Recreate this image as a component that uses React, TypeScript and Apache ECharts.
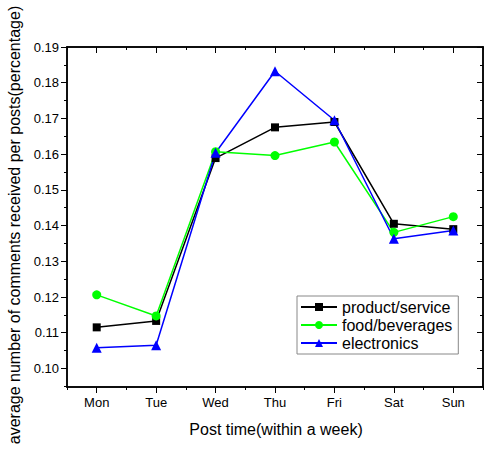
import React, { useEffect, useRef } from "react";
import * as echarts from "echarts";

const days = ["Mon", "Tue", "Wed", "Thu", "Fri", "Sat", "Sun"];
const productService = [0.1115, 0.1133, 0.1589, 0.1675, 0.169, 0.1405, 0.139];
const foodBeverages = [0.1206, 0.1147, 0.1607, 0.1596, 0.1634, 0.1381, 0.1425];
const electronics = [0.1058, 0.1065, 0.1604, 0.1832, 0.1695, 0.1363, 0.1386];
const yMajorTicks = [0.1, 0.11, 0.12, 0.13, 0.14, 0.15, 0.16, 0.17, 0.18, 0.19];
const yMinorTicks = [0.095, 0.105, 0.115, 0.125, 0.135, 0.145, 0.155, 0.165, 0.175, 0.185];
const yMin = 0.0948;
const yMax = 0.19;

const FONT = "Liberation Sans, Arial, sans-serif";

export default function App() {
  const ref = useRef<HTMLDivElement>(null);
  useEffect(() => {
    if (!ref.current) return;
    const chart = echarts.init(ref.current, undefined, { renderer: "svg" });
    const axisLine = { show: true, lineStyle: { color: "#000", width: 1.5 } };
    const xBase = {
      type: "category" as const,
      data: days,
      boundaryGap: true,
      axisLine,
      splitLine: { show: false },
    };
    const yBase = {
      type: "value" as const,
      min: yMin,
      max: yMax,
      axisLine,
      splitLine: { show: false },
    };
    chart.setOption({
      animation: false,
      backgroundColor: "#fff",
      textStyle: { fontFamily: FONT },
      grid: { left: 67, top: 47, width: 416, height: 340 },
      xAxis: [
        {
          ...xBase,
          position: "bottom",
          axisTick: { show: true, alignWithLabel: true, length: 6, inside: false, lineStyle: { color: "#000" } },
          axisLabel: { show: true, color: "#000", fontSize: 13, fontFamily: FONT, margin: 9 },
        },
        {
          ...xBase,
          position: "bottom",
          axisTick: { show: true, alignWithLabel: false, length: 3, inside: false, lineStyle: { color: "#000" } },
          axisLabel: { show: false },
        },
        {
          ...xBase,
          position: "top",
          axisTick: { show: true, alignWithLabel: true, length: 6, inside: true, lineStyle: { color: "#000" } },
          axisLabel: { show: false },
        },
        {
          ...xBase,
          position: "top",
          axisTick: { show: true, alignWithLabel: false, length: 3, inside: true, lineStyle: { color: "#000" } },
          axisLabel: { show: false },
        },
      ],
      yAxis: [
        {
          ...yBase,
          position: "left",
          axisTick: { show: true, length: 6, inside: false, customValues: yMajorTicks, lineStyle: { color: "#000" } },
          axisLabel: {
            show: true,
            customValues: yMajorTicks,
            color: "#000",
            fontSize: 13,
            fontFamily: FONT,
            margin: 8,
            formatter: (v: number) => v.toFixed(2),
          },
        },
        {
          ...yBase,
          position: "left",
          axisTick: { show: true, length: 3, inside: false, customValues: yMinorTicks, lineStyle: { color: "#000" } },
          axisLabel: { show: false },
        },
        {
          ...yBase,
          position: "right",
          axisTick: { show: true, length: 6, inside: true, customValues: yMajorTicks, lineStyle: { color: "#000" } },
          axisLabel: { show: false },
        },
        {
          ...yBase,
          position: "right",
          axisTick: { show: true, length: 3, inside: true, customValues: yMinorTicks, lineStyle: { color: "#000" } },
          axisLabel: { show: false },
        },
      ],
      legend: {
        orient: "vertical",
        left: 297,
        top: 296,
        padding: [3, 6, 3, 3],
        itemWidth: 36,
        itemHeight: 10,
        itemGap: 2,
        borderColor: "#888",
        borderWidth: 1,
        backgroundColor: "#fff",
        textStyle: { fontSize: 16, color: "#000", fontFamily: FONT },
        data: ["product/service", "food/beverages", "electronics"],
      },
      graphic: [
        {
          type: "text",
          x: 14,
          y: 225,
          rotation: Math.PI / 2,
          style: {
            text: "average number of comments received per posts(percentage)",
            font: `16px ${FONT}`,
            fill: "#000",
            align: "center",
            verticalAlign: "middle",
          },
        },
        {
          type: "text",
          x: 276,
          y: 429,
          style: {
            text: "Post time(within a week)",
            font: `16px ${FONT}`,
            fill: "#000",
            align: "center",
            verticalAlign: "middle",
          },
        },
      ],
      series: [
        {
          name: "product/service",
          type: "line",
          data: productService,
          symbol: "rect",
          symbolSize: 8,
          color: "#000",
          lineStyle: { width: 1.5, color: "#000" },
          itemStyle: { color: "#000" },
        },
        {
          name: "food/beverages",
          type: "line",
          data: foodBeverages,
          symbol: "circle",
          symbolSize: 9,
          color: "#00ff00",
          lineStyle: { width: 1.5, color: "#00ff00" },
          itemStyle: { color: "#00ff00" },
        },
        {
          name: "electronics",
          type: "line",
          data: electronics,
          symbol: "triangle",
          symbolSize: 10,
          color: "#0000ff",
          lineStyle: { width: 1.5, color: "#0000ff" },
          itemStyle: { color: "#0000ff" },
        },
      ],
    });
    return () => chart.dispose();
  }, []);
  return <div ref={ref} style={{ width: 485, height: 454, position: "absolute", left: 0, top: 0 }} />;
}
